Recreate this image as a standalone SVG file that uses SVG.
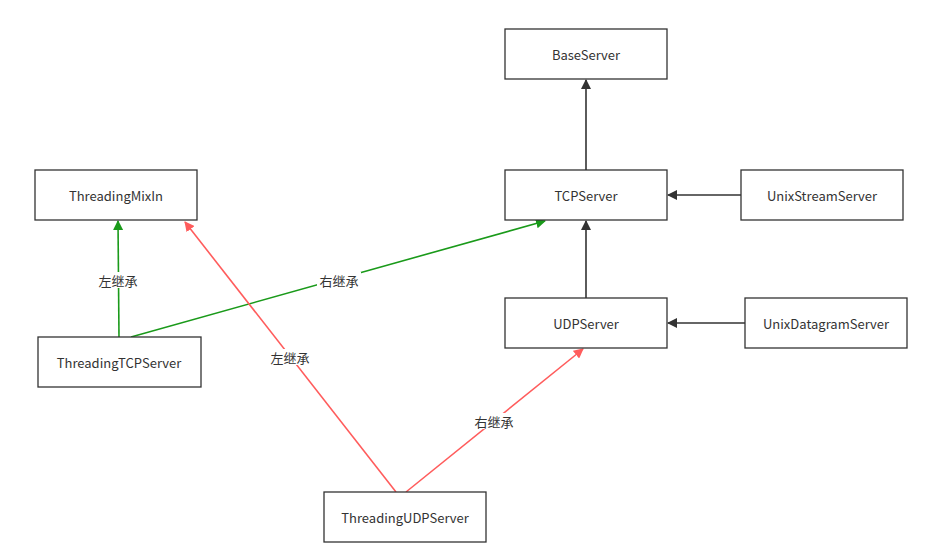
<svg xmlns="http://www.w3.org/2000/svg" width="937" height="556" viewBox="0 0 937 556">
<style>
.box{fill:#fff;stroke:#333;stroke-width:1.3}
.t{font-family:"Noto Sans CJK SC","Liberation Sans",sans-serif;font-size:13px;fill:#333;text-anchor:middle;dominant-baseline:central}
.e{fill:none;stroke-width:1.6}
.k{stroke:#333}
.g{stroke:#1a9a1a}
.r{stroke:#ff5c5c}
.lb{fill:#fff}
</style>
<defs>
<marker id="mk" viewBox="0 0 10 10" refX="9" refY="5" markerWidth="10" markerHeight="10" markerUnits="userSpaceOnUse" orient="auto"><path d="M0,0L10,5L0,10z" fill="#333"/></marker>
<marker id="mg" viewBox="0 0 10 10" refX="9" refY="5" markerWidth="10" markerHeight="10" markerUnits="userSpaceOnUse" orient="auto"><path d="M0,0L10,5L0,10z" fill="#1a9a1a"/></marker>
<marker id="mr" viewBox="0 0 10 10" refX="9" refY="5" markerWidth="10" markerHeight="10" markerUnits="userSpaceOnUse" orient="auto"><path d="M0,0L10,5L0,10z" fill="#ff5c5c"/></marker>
</defs>
<rect width="937" height="556" fill="#fff"/>
<g id="connectors">
<line class="e k" x1="586" y1="170" x2="586" y2="80" marker-end="url(#mk)"/>
<line class="e k" x1="741" y1="195" x2="668" y2="195" marker-end="url(#mk)"/>
<line class="e k" x1="586" y1="298" x2="586" y2="221" marker-end="url(#mk)"/>
<line class="e k" x1="745" y1="323" x2="668" y2="323" marker-end="url(#mk)"/>
<line class="e g" x1="119" y1="337" x2="118" y2="221" marker-end="url(#mg)"/>
<line class="e g" x1="131" y1="337" x2="545" y2="221" marker-end="url(#mg)"/>
<line class="e r" x1="396" y1="492" x2="185" y2="222" marker-end="url(#mr)"/>
<line class="e r" x1="406" y1="492" x2="583" y2="349" marker-end="url(#mr)"/>
<rect class="lb" x="96" y="272" width="44" height="16"/>
<text class="t" x="118" y="280">左继承</text>
<rect class="lb" x="317" y="272" width="44" height="16"/>
<text class="t" x="339" y="280">右继承</text>
<rect class="lb" x="268" y="349" width="44" height="16"/>
<text class="t" x="290" y="357">左继承</text>
<rect class="lb" x="472" y="413" width="44" height="16"/>
<text class="t" x="494" y="421">右继承</text>
</g>
<g id="BaseServer"><rect class="box" x="505" y="29" width="162" height="50"/><text class="t" x="586" y="54">BaseServer</text></g>
<g id="TCPServer"><rect class="box" x="505" y="170" width="162" height="50"/><text class="t" x="586" y="195">TCPServer</text></g>
<g id="UnixStreamServer"><rect class="box" x="741" y="170" width="162" height="50"/><text class="t" x="822" y="195">UnixStreamServer</text></g>
<g id="UDPServer"><rect class="box" x="505" y="298" width="162" height="50"/><text class="t" x="586" y="323">UDPServer</text></g>
<g id="UnixDatagramServer"><rect class="box" x="745" y="298" width="162" height="50"/><text class="t" x="826" y="323">UnixDatagramServer</text></g>
<g id="ThreadingMixIn"><rect class="box" x="35" y="170" width="162" height="50"/><text class="t" x="116" y="195">ThreadingMixIn</text></g>
<g id="ThreadingTCPServer"><rect class="box" x="38" y="337" width="163" height="50"/><text class="t" x="119" y="362">ThreadingTCPServer</text></g>
<g id="ThreadingUDPServer"><rect class="box" x="324" y="492" width="162" height="50"/><text class="t" x="405" y="517">ThreadingUDPServer</text></g>
</svg>
